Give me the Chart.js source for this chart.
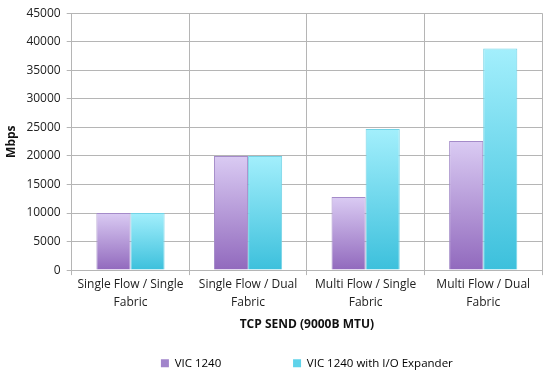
<!DOCTYPE html>
<html>
<head>
<meta charset="utf-8">
<script src="https://cdn.jsdelivr.net/npm/chart.js@4/dist/chart.umd.min.js"></script>
<style>
  html, body { margin: 0; padding: 0; background: #fff; }
  #wrap { width: 560px; height: 377px; }
</style>
</head>
<body>
<div id="wrap"><canvas id="chart"></canvas></div>
<script>
const categories = [
  ["Single Flow / Single", "Fabric"],
  ["Single Flow / Dual", "Fabric"],
  ["Multi Flow / Single", "Fabric"],
  ["Multi Flow / Dual", "Fabric"],
];
const vic1240 = [10000, 20000, 12800, 22600];
const vic1240Expander = [10000, 20000, 24700, 38800];
const seriesNames = ["VIC 1240", "VIC 1240 with I/O Expander"];

const fontFamily = "'Open Sans', 'Liberation Sans', sans-serif";

// each bar gets its own gradient, light at its top and darker at the base
function barGradient(top, bottom) {
  return function (context) {
    const chart = context.chart;
    const y = chart.scales.y;
    if (!chart.chartArea || !y || context.parsed == null) return bottom;
    const y0 = y.getPixelForValue(context.parsed.y);
    const y1 = y.getPixelForValue(0);
    const g = chart.ctx.createLinearGradient(0, y0, 0, y1);
    g.addColorStop(0, top);
    g.addColorStop(1, bottom);
    return g;
  };
}

new Chart(document.getElementById("chart"), {
  type: "bar",
  data: {
    labels: categories,
    datasets: [
      {
        label: seriesNames[0] + "\u00a0".repeat(16),
        data: vic1240,
        backgroundColor: barGradient("#dacbf3", "#9169bd"),
        borderColor: "#a48bc9",
        borderWidth: 1,
        barPercentage: 1.0,
        categoryPercentage: 0.58,
      },
      {
        label: seriesNames[1],
        data: vic1240Expander,
        backgroundColor: barGradient("#a3effc", "#3cc0dc"),
        borderColor: "#73d3e6",
        borderWidth: 1,
        barPercentage: 1.0,
        categoryPercentage: 0.58,
      },
    ],
  },
  options: {
    responsive: true,
    maintainAspectRatio: false,
    animation: false,
    layout: { padding: { top: 6, right: 18, left: 4, bottom: -2 } },
    plugins: {
      legend: {
        position: "bottom",
        fullSize: false,
        labels: {
          boxWidth: 8,
          boxHeight: 8,
          padding: 24,
          color: "#222",
          font: { family: fontFamily, size: 11.5 },
          generateLabels: function (chart) {
            const fills = ["#a184cb", "#5fd3ea"];
            return chart.data.datasets.map((ds, i) => ({
              text: ds.label,
              fillStyle: fills[i],
              strokeStyle: fills[i],
              lineWidth: 0,
              datasetIndex: i,
            }));
          },
        },
      },
      tooltip: { enabled: false },
    },
    scales: {
      x: {
        grid: {
          offset: true,
          color: "#b5b5b5",
          tickLength: 5,
        },
        border: { color: "#b5b5b5" },
        ticks: {
          color: "#222",
          font: { family: fontFamily, size: 12, lineHeight: 1.5 },
          maxRotation: 0,
          padding: 0,
        },
        title: {
          display: true,
          text: "TCP SEND (9000B MTU)",
          color: "#111",
          font: { family: fontFamily, size: 12, weight: "bold" },
          padding: { top: 6, bottom: 2 },
        },
      },
      y: {
        min: 0,
        max: 45000,
        grid: {
          color: "#b5b5b5",
          tickLength: 5,
        },
        border: { color: "#b5b5b5" },
        ticks: {
          stepSize: 5000,
          color: "#222",
          font: { family: fontFamily, size: 12 },
          padding: 6,
          callback: (value) => String(value),
        },
        title: {
          display: true,
          text: "Mbps",
          color: "#111",
          font: { family: fontFamily, size: 12, weight: "bold" },
          padding: { top: 0, bottom: 2 },
        },
      },
    },
  },
});
</script>
</body>
</html>
